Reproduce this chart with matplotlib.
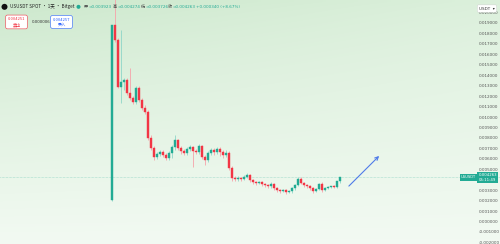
import numpy as np
import matplotlib
matplotlib.use("Agg")
import matplotlib.pyplot as plt
import matplotlib.transforms as mtransforms
from matplotlib.patches import Ellipse

plt.rcParams['font.family'] = ['Noto Sans CJK SC', 'DejaVu Sans']

# daily candles, USUSDT spot on Bitget
opens = [0.00211, 0.01885, 0.01742, 0.01292, 0.01340, 0.01359, 0.01234, 0.01187, 0.01148, 0.01282,
         0.01167, 0.01091, 0.01053, 0.00804, 0.00708, 0.00622, 0.00651, 0.00670, 0.00641, 0.00612,
         0.00660, 0.00718, 0.00785, 0.00708, 0.00679, 0.00660, 0.00699, 0.00718, 0.00679, 0.00670,
         0.00727, 0.00622, 0.00593, 0.00660, 0.00689, 0.00670, 0.00699, 0.00670, 0.00641, 0.00660,
         0.00517, 0.00421, 0.00412, 0.00421, 0.00412, 0.00431, 0.00450, 0.00402, 0.00383, 0.00373,
         0.00383, 0.00364, 0.00354, 0.00344, 0.00364, 0.00325, 0.00306, 0.00297, 0.00306, 0.00287,
         0.00297, 0.00325, 0.00354, 0.00412, 0.00373, 0.00354, 0.00344, 0.00325, 0.00297, 0.00316,
         0.00364, 0.00306, 0.00325, 0.00335, 0.00340, 0.00335, 0.003923]
highs = [0.01885, 0.02150, 0.01761, 0.01837, 0.01378, 0.01378, 0.01474, 0.01206, 0.01301, 0.01301,
         0.01187, 0.01120, 0.01072, 0.00833, 0.00727, 0.00670, 0.00689, 0.00689, 0.00660, 0.00679,
         0.00737, 0.00833, 0.00794, 0.00727, 0.00699, 0.00718, 0.00737, 0.00727, 0.00699, 0.00746,
         0.00737, 0.00641, 0.00679, 0.00708, 0.00708, 0.00718, 0.00718, 0.00689, 0.00689, 0.00679,
         0.00536, 0.00440, 0.00440, 0.00431, 0.00450, 0.00469, 0.00459, 0.00412, 0.00392, 0.00392,
         0.00392, 0.00373, 0.00364, 0.00383, 0.00373, 0.00335, 0.00316, 0.00316, 0.00316, 0.00306,
         0.00335, 0.00364, 0.00431, 0.00431, 0.00383, 0.00364, 0.00354, 0.00335, 0.00325, 0.00373,
         0.00383, 0.00335, 0.00344, 0.00344, 0.00354, 0.00373, 0.004274]
lows = [0.00201, 0.01723, 0.01282, 0.01139, 0.01263, 0.01215, 0.01167, 0.01129, 0.01129, 0.01148,
        0.01072, 0.01033, 0.00785, 0.00689, 0.00593, 0.00603, 0.00632, 0.00622, 0.00593, 0.00593,
        0.00612, 0.00689, 0.00689, 0.00651, 0.00641, 0.00641, 0.00679, 0.00526, 0.00651, 0.00651,
        0.00603, 0.00545, 0.00574, 0.00641, 0.00641, 0.00651, 0.00632, 0.00612, 0.00622, 0.00498,
        0.00392, 0.00392, 0.00392, 0.00392, 0.00402, 0.00421, 0.00383, 0.00364, 0.00354, 0.00364,
        0.00344, 0.00335, 0.00325, 0.00325, 0.00306, 0.00287, 0.00278, 0.00287, 0.00268, 0.00278,
        0.00278, 0.00306, 0.00344, 0.00364, 0.00335, 0.00325, 0.00306, 0.00278, 0.00287, 0.00306,
        0.00287, 0.00297, 0.00316, 0.00325, 0.00325, 0.00325, 0.003726]
closes = [0.01885, 0.01742, 0.01292, 0.01340, 0.01359, 0.01234, 0.01187, 0.01148, 0.01282, 0.01167,
          0.01091, 0.01053, 0.00804, 0.00708, 0.00622, 0.00651, 0.00670, 0.00641, 0.00612, 0.00660,
          0.00718, 0.00785, 0.00708, 0.00679, 0.00660, 0.00699, 0.00718, 0.00679, 0.00670, 0.00727,
          0.00622, 0.00593, 0.00660, 0.00689, 0.00670, 0.00699, 0.00670, 0.00641, 0.00660, 0.00517,
          0.00421, 0.00412, 0.00421, 0.00412, 0.00431, 0.00450, 0.00402, 0.00383, 0.00373, 0.00383,
          0.00364, 0.00354, 0.00344, 0.00364, 0.00325, 0.00306, 0.00297, 0.00306, 0.00287, 0.00297,
          0.00325, 0.00354, 0.00412, 0.00373, 0.00354, 0.00344, 0.00325, 0.00297, 0.00316, 0.00364,
          0.00306, 0.00325, 0.00335, 0.00340, 0.00335, 0.003923, 0.004263]

price_ticks = [0.020, 0.019, 0.018, 0.017, 0.016, 0.015, 0.014, 0.013, 0.012, 0.011, 0.010,
               0.009, 0.008, 0.007, 0.006, 0.005, 0.003, 0.002, 0.001, 0.0, -0.001, -0.002]
last_price = 0.004263
bid, ask, spread = "0.004251", "0.004257", "0.000006"
header_vals = [("开", "0.003923"), ("高", "0.004274"), ("低", "0.003726"), ("收", "0.004263")]
change_text = "+0.000340 (+8.67%)"

# drawn trend arrow (candle index, price)
arrow_start = (78.3, 0.00325)
arrow_end = (89.7, 0.00651)

up_col = "#22ab94"
down_col = "#f23645"
up_wick = "#8fd6c8"
down_wick = "#f6a2a9"

fig = plt.figure(figsize=(5, 2.44), dpi=100)
ax = fig.add_axes([0, 0, 1, 1])
xmin, xmax = -37.33, 129.33
ymin, ymax = -0.002105, 0.021244
ax.set_xlim(xmin, xmax)
ax.set_ylim(ymin, ymax)
ax.axis("off")

# background gradient
ny, nx = 60, 100
t = np.linspace(0, 1, ny)[:, None]
s = np.linspace(0, 1, nx)[None, :]
top = np.array([0.80, 0.91, 0.80])
top_r = np.array([0.86, 0.94, 0.86])
bot = np.array([0.95, 0.98, 0.95])
topc = top[None, None, :] * (1 - s[..., None]) + top_r[None, None, :] * s[..., None]
img = topc * (1 - t[..., None] ** 0.8) + bot[None, None, :] * (t[..., None] ** 0.8)
ax.imshow(img, extent=[xmin, xmax, ymin, ymax], aspect="auto", zorder=0, interpolation="bilinear")

# candles
for i in range(len(closes)):
    o, h, l, c = opens[i], highs[i], lows[i], closes[i]
    up = c >= o
    ax.vlines(i, l, h, color=up_wick if up else down_wick, lw=0.6, zorder=2)
    ax.bar(i, abs(c - o), bottom=min(o, c), width=0.62, color=up_col if up else down_col,
           edgecolor=up_col if up else down_col, linewidth=0.3, zorder=3)

# last price line
ax.axhline(last_price, color=up_col, lw=0.4, ls=(0, (1, 1.5)), alpha=0.6, zorder=1)

# trend arrow
ax.annotate("", xy=arrow_end, xytext=arrow_start,
            arrowprops=dict(arrowstyle="->", color="#4f7be8", lw=0.8, mutation_scale=6), zorder=4)

# price scale on the right
trans = mtransforms.blended_transform_factory(ax.transAxes, ax.transData)
for p in price_ticks:
    ax.text(0.957, p, f"{p:.6f}" if p != 0 else "0.000000", transform=trans, fontsize=3,
            color="#555555", va="center", ha="left", family="DejaVu Sans")

# last price tag
ax.text(0.922, last_price, "USUSDT", transform=trans, fontsize=2.6, color="white",
        va="center", ha="left", family="DejaVu Sans",
        bbox=dict(boxstyle="square,pad=0.35", fc=up_col, ec="none"))
ax.text(0.957, last_price, "0.004263\n05:11:49", transform=trans, fontsize=2.8, color="white",
        va="center", ha="left", linespacing=1.1, family="DejaVu Sans",
        bbox=dict(boxstyle="square,pad=0.35", fc=up_col, ec="none"))

# currency selector top right
fig.text(0.958, 0.965, "USDT  ▾", fontsize=3, color="#333333", va="center", ha="left",
         family="DejaVu Sans",
         bbox=dict(boxstyle="round,pad=0.4,rounding_size=0.3", fc="white", ec="#cccccc", lw=0.3))

# header line
asp = 5 / 2.44
fig.patches.append(Ellipse((0.009, 0.972), 0.012, 0.012 * asp, transform=fig.transFigure,
                           fc="#111111"))
fig.text(0.02, 0.972, "USUSDT SPOT · 1天 · Bitget", fontsize=3.3, color="#222222", va="center")
fig.patches.append(Ellipse((0.157, 0.972), 0.008, 0.008 * asp, transform=fig.transFigure,
                           fc=up_col))
label_x = [0.168, 0.226, 0.282, 0.335]
for (lab, val), x0 in zip(header_vals, label_x):
    fig.text(x0, 0.972, lab, fontsize=3, color="#444444", va="center")
    fig.text(x0 + 0.0095, 0.972, "=" + val, fontsize=3, color=up_col, va="center",
             family="DejaVu Sans")
fig.text(0.393, 0.972, change_text, fontsize=3, color=up_col, va="center", family="DejaVu Sans")

# bid / ask buttons
fig.text(0.033, 0.91, bid + "\n卖出", fontsize=3, color=down_col, va="center", ha="center",
         linespacing=1.2,
         bbox=dict(boxstyle="round,pad=0.5,rounding_size=0.4", fc="white", ec=down_col, lw=0.4))
fig.text(0.083, 0.91, spread, fontsize=2.8, color="#333333", va="center", ha="center",
         family="DejaVu Sans")
fig.text(0.123, 0.91, ask + "\n买入", fontsize=3, color="#2962ff", va="center", ha="center",
         linespacing=1.2,
         bbox=dict(boxstyle="round,pad=0.5,rounding_size=0.4", fc="white", ec="#2962ff", lw=0.4))

fig.savefig("out.png", dpi=100)
